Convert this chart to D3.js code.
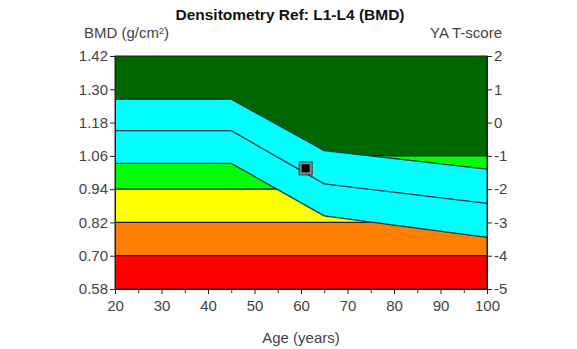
<!DOCTYPE html>
<html>
<head>
<meta charset="utf-8">
<script src="https://cdn.jsdelivr.net/npm/d3@7/dist/d3.min.js"></script>
<style>
  html, body { margin: 0; padding: 0; background: #fff; }
  svg { display: block; font-family: "Liberation Sans", Arial, sans-serif; }
</style>
</head>
<body>
<svg id="chart" width="577" height="349"></svg>
<script>
// Reference curve (age-matched mean and ±1 SD) for L1-L4 BMD
const refAges = [20, 45, 65, 100];
const refMean = [1.151, 1.151, 0.959, 0.889];
const refUpper = [1.264, 1.264, 1.079, 1.012];
const refLower = [1.033, 1.033, 0.844, 0.766];

// Classification bands (BMD ranges) and their colours
const bandFrom = [0.58, 0.70, 0.82, 0.94, 1.06];
const bandTo = [0.70, 0.82, 0.94, 1.06, 1.42];
const bandColor = ["#ff0000", "#ff8000", "#ffff00", "#00ff00", "#006600"];

// Axis ticks
const bmdTicks = [0.58, 0.70, 0.82, 0.94, 1.06, 1.18, 1.30, 1.42];
const tScoreTicks = [-5, -4, -3, -2, -1, 0, 1, 2];
const ageTicks = [20, 30, 40, 50, 60, 70, 80, 90, 100];
const ageMinorTicks = [25, 35, 45, 55, 65, 75, 85, 95];

// Patient measurement
const patientAge = [61];
const patientBMD = [1.015];

const svg = d3.select("#chart");
const mLeft = 115, mRight = 487, mTop = 56, mBottom = 289;

const x = d3.scaleLinear().domain([20, 100]).range([mLeft, mRight]);
const y = d3.scaleLinear().domain([0.58, 1.42]).range([mBottom, mTop]);
const yT = d3.scaleLinear().domain([-5, 2]).range([mBottom, mTop]);

// Bands
const plot = svg.append("g");
plot.selectAll("rect.band")
  .data(bandFrom.map((f, i) => ({ from: f, to: bandTo[i], color: bandColor[i] })))
  .join("rect")
  .attr("class", "band")
  .attr("x", x(20))
  .attr("width", x(100) - x(20))
  .attr("y", d => y(d.to))
  .attr("height", d => y(d.from) - y(d.to))
  .attr("fill", d => d.color);

// Band boundary lines
plot.selectAll("line.bandline")
  .data(bandFrom.slice(1))
  .join("line")
  .attr("class", "bandline")
  .attr("x1", x(20)).attr("x2", x(100))
  .attr("y1", d => y(d)).attr("y2", d => y(d))
  .attr("stroke", "#1a1a1a")
  .attr("stroke-width", 1.2);

// Reference ±1 SD band
const refPts = refAges.map((a, i) => ({ age: a, mean: refMean[i], up: refUpper[i], lo: refLower[i] }));
const area = d3.area().x(d => x(d.age)).y0(d => y(d.lo)).y1(d => y(d.up));
plot.append("path").datum(refPts).attr("d", area).attr("fill", "#00ffff");

const lineOf = key => d3.line().x(d => x(d.age)).y(d => y(d[key]));
["up", "mean", "lo"].forEach(k => {
  plot.append("path").datum(refPts)
    .attr("d", lineOf(k))
    .attr("fill", "none")
    .attr("stroke", "#0b3a44")
    .attr("stroke-width", 1.3);
});

// Plot frame
svg.append("rect")
  .attr("x", mLeft).attr("y", mTop)
  .attr("width", mRight - mLeft).attr("height", mBottom - mTop)
  .attr("fill", "none").attr("stroke", "#222").attr("stroke-width", 1);

// Axes
const fontSize = "15px";
const yAxis = d3.axisLeft(y).tickValues(bmdTicks).tickFormat(d3.format(".2f")).tickSize(5).tickPadding(2);
const gy = svg.append("g").attr("transform", `translate(${mLeft},0)`).call(yAxis);

const tAxis = d3.axisRight(yT).tickValues(tScoreTicks).tickFormat(d => d < 0 ? "-" + Math.abs(d) : d).tickSize(5).tickPadding(2);
const gt = svg.append("g").attr("transform", `translate(${mRight},0)`).call(tAxis);

const xAxis = d3.axisBottom(x).tickValues(ageTicks).tickFormat(d3.format("d")).tickSize(5).tickPadding(6);
const gx = svg.append("g").attr("transform", `translate(0,${mBottom})`).call(xAxis);

const xMinor = d3.axisBottom(x).tickValues(ageMinorTicks).tickFormat("").tickSize(4);
const gxm = svg.append("g").attr("transform", `translate(0,${mBottom})`).call(xMinor);

[gy, gt, gx, gxm].forEach(g => {
  g.select(".domain").attr("stroke", "#222");
  g.selectAll(".tick line").attr("stroke", "#222");
  g.selectAll("text").attr("fill", "#444").style("font-size", fontSize).style("font-family", "'Liberation Sans', Arial, sans-serif");
});

// Patient marker
const patientPts = patientAge.map((a, i) => ({ age: a, bmd: patientBMD[i] }));
svg.selectAll("rect.patient")
  .data(patientPts)
  .join("rect")
  .attr("class", "patient")
  .attr("x", d => x(d.age) - 5)
  .attr("y", d => y(d.bmd) - 5)
  .attr("width", 10).attr("height", 10)
  .attr("fill", "#000")
  .attr("stroke", "#8a8a8a")
  .attr("stroke-width", 2);
svg.selectAll("rect.patientOutline")
  .data(patientPts)
  .join("rect")
  .attr("class", "patientOutline")
  .attr("x", d => x(d.age) - 6.5)
  .attr("y", d => y(d.bmd) - 6.5)
  .attr("width", 13).attr("height", 13)
  .attr("fill", "none")
  .attr("stroke", "#333")
  .attr("stroke-width", 1);

// Titles
svg.append("text")
  .attr("x", 290).attr("y", 20)
  .attr("text-anchor", "middle")
  .style("font-weight", "bold").style("font-size", "15.5px").attr("fill", "#111")
  .text("Densitometry Ref: L1-L4 (BMD)");

const bmdLabel = svg.append("text")
  .attr("x", 84).attr("y", 38)
  .style("font-size", fontSize).attr("fill", "#444");
bmdLabel.append("tspan").text("BMD (g/cm");
bmdLabel.append("tspan").attr("dy", -4).style("font-size", "9px").text("2");
bmdLabel.append("tspan").attr("dy", 4).text(")");

svg.append("text")
  .attr("x", 502).attr("y", 38)
  .attr("text-anchor", "end")
  .style("font-size", fontSize).attr("fill", "#444")
  .text("YA T-score");

svg.append("text")
  .attr("x", 301).attr("y", 343)
  .attr("text-anchor", "middle")
  .style("font-size", fontSize).attr("fill", "#444")
  .text("Age (years)");
</script>
</body>
</html>
